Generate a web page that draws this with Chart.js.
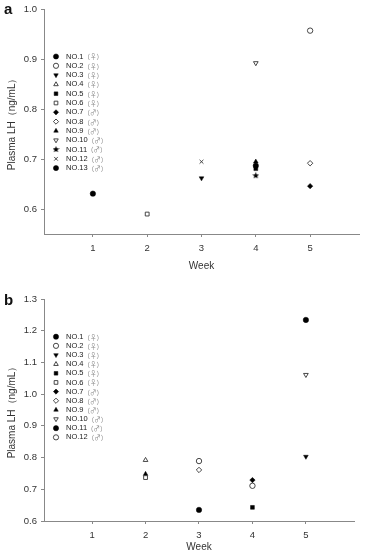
<!DOCTYPE html>
<html>
<head>
<meta charset="utf-8">
<script src="https://cdn.jsdelivr.net/npm/chart.js@4.4.0/dist/chart.umd.min.js"></script>
<style>
  body { margin: 0; background: #fff; width: 365px; height: 556px; overflow: hidden; position: relative; }
  .panel { position: absolute; left: 0; }
  .tag { position: absolute; left: 4px; font: bold 15px "Liberation Sans", Arial, sans-serif; line-height: 15px; color: #111; }
</style>
</head>
<body>
<div class="panel" style="top:0"><canvas id="chartA" width="365" height="278"></canvas></div>
<div class="panel" style="top:280px"><canvas id="chartB" width="365" height="276"></canvas></div>
<div class="tag" style="top:1px">a</div>
<div class="tag" style="top:292px">b</div>
<script>
// shared x axis
const weekTicks = [1, 2, 3, 4, 5];

// panel a
const subjectsA = ['NO.1', 'NO.2', 'NO.3', 'NO.4', 'NO.5', 'NO.6', 'NO.7', 'NO.8', 'NO.9', 'NO.10', 'NO.11', 'NO.12', 'NO.13'];
const sexA = ['♀', '♀', '♀', '♀', '♀', '♀', '♂', '♂', '♂', '♂', '♂', '♂', '♂'];
const weekA = [4, 5, 3, null, 4, 2, 5, 5, 4, 4, 4, 3, 1];
const lhA = [0.687, 0.958, 0.662, null, 0.681, 0.590, 0.646, 0.692, 0.695, 0.893, 0.667, 0.695, 0.631];
const yTicksA = [0.6, 0.7, 0.8, 0.9, 1.0];

// panel b
const subjectsB = ['NO.1', 'NO.2', 'NO.3', 'NO.4', 'NO.5', 'NO.6', 'NO.7', 'NO.8', 'NO.9', 'NO.10', 'NO.11', 'NO.12'];
const sexB = ['♀', '♀', '♀', '♀', '♀', '♀', '♂', '♂', '♂', '♂', '♂', '♂'];
const weekB = [3, 3, 5, 2, 4, 2, 4, 3, 2, 5, 5, 4];
const lhB = [0.635, 0.789, 0.803, 0.792, 0.643, 0.737, 0.729, 0.761, 0.748, 1.061, 1.234, 0.711];
const yTicksB = [0.6, 0.7, 0.8, 0.9, 1.0, 1.1, 1.2, 1.3];

// small filled star used for NO.11 in panel a
function makeStar(size) {
    const c = document.createElement('canvas');
    c.width = size; c.height = size;
    const g = c.getContext('2d');
    const cx = size / 2, cy = size / 2, R = size / 2, r = R * 0.45;
    g.beginPath();
    for (let i = 0; i < 10; i++) {
        const a = -Math.PI / 2 + i * Math.PI / 5;
        const rad = i % 2 ? r : R;
        g.lineTo(cx + rad * Math.cos(a), cy + rad * Math.sin(a));
    }
    g.closePath();
    g.fillStyle = '#000';
    g.fill();
    return c;
}
const starImg = makeStar(7);

const markersA = [
    { style: 'circle', fill: true },
    { style: 'circle', fill: false },
    { style: 'triangle', fill: true, rot: 180 },
    { style: 'triangle', fill: false },
    { style: 'rect', fill: true },
    { style: 'rect', fill: false },
    { style: 'rectRot', fill: true },
    { style: 'rectRot', fill: false },
    { style: 'triangle', fill: true },
    { style: 'triangle', fill: false, rot: 180 },
    { style: starImg, fill: true },
    { style: 'crossRot', fill: false },
    { style: 'circle', fill: true }
];
const markersB = markersA.slice(0, 10).concat([
    { style: 'circle', fill: true },
    { style: 'circle', fill: false }
]);

function buildDatasets(subjects, sex, weeks, values, markers) {
    return subjects.map((name, i) => ({
        label: name,
        sex: sex[i],
        data: weeks[i] == null ? [] : [{ x: weeks[i], y: values[i] }],
        pointStyle: markers[i].style,
        pointRotation: markers[i].rot || 0,
        backgroundColor: markers[i].fill ? '#000' : '#fff',
        borderColor: markers[i].fill ? '#000' : '#333',
        borderWidth: markers[i].fill ? 0.5 : 0.9,
        pointRadius: 2.7
    }));
}

// legend drawn inside the plot, sex symbols in grey
const sideLegend = {
    id: 'sideLegend',
    afterDraw(chart, args, opts) {
        const ctx = chart.ctx;
        ctx.save();
        chart.data.datasets.forEach((ds, i) => {
            const y = opts.top + i * opts.rowHeight;
            ctx.fillStyle = ds.backgroundColor;
            ctx.strokeStyle = ds.borderColor;
            ctx.lineWidth = ds.borderWidth;
            Chart.helpers.drawPoint(ctx, {
                pointStyle: ds.pointStyle,
                rotation: ds.pointRotation,
                radius: opts.markerRadius,
                borderWidth: ds.borderWidth
            }, opts.markerX, y);
            ctx.textBaseline = 'middle';
            ctx.textAlign = 'left';
            ctx.font = '7.5px "Liberation Sans", Arial, sans-serif';
            ctx.fillStyle = '#222';
            ctx.fillText(ds.label, opts.textX, y);
            const w = ctx.measureText(ds.label).width;
            ctx.font = '6.5px "Noto Sans CJK SC", "DejaVu Sans", sans-serif';
            ctx.fillStyle = '#8a8a8a';
            ctx.fillText('（' + ds.sex + '）', opts.textX + w, y + 0.5);
        });
        ctx.restore();
    }
};

function makeOptions(cfg) {
    const axisColor = '#888';
    const tickFont = { family: '"Liberation Sans", Arial, sans-serif', size: 9.5 };
    const titleFont = { family: '"Liberation Sans", Arial, sans-serif', size: 10 };
    return {
        responsive: false,
        animation: false,
        layout: { padding: { top: cfg.padTop, right: cfg.padRight, left: 0, bottom: 0 } },
        plugins: {
            legend: { display: false },
            tooltip: { enabled: false },
            sideLegend: { top: cfg.legendTop, rowHeight: cfg.rowHeight, markerX: 56, textX: 66, markerRadius: 2.6 }
        },
        scales: {
            x: {
                type: 'linear',
                min: 0.1,
                max: 5.9,
                afterBuildTicks: (scale) => { scale.ticks = weekTicks.map(v => ({ value: v })); },
                afterFit: (scale) => { scale.height = cfg.xHeight; },
                ticks: { color: '#333', font: tickFont, padding: 6, maxRotation: 0 },
                grid: { drawOnChartArea: false, drawTicks: true, tickLength: 3, color: axisColor },
                border: { color: axisColor, width: 1 },
                title: { display: true, text: 'Week', color: '#333', font: titleFont, padding: { top: 0, bottom: cfg.titlePadBottom } }
            },
            y: {
                min: cfg.yMin,
                max: cfg.yMax,
                afterBuildTicks: (scale) => { scale.ticks = cfg.yTicks.map(v => ({ value: v })); },
                afterFit: (scale) => { scale.width = 44; },
                ticks: { color: '#333', font: tickFont, padding: 4, callback: (v) => Number(v).toFixed(1) },
                grid: { drawOnChartArea: false, drawTicks: true, tickLength: 3, color: axisColor },
                border: { color: axisColor, width: 1 },
                title: { display: true, text: 'Plasma LH（ng/mL）', color: '#333', font: titleFont, padding: { top: 6, bottom: 0 } }
            }
        }
    };
}

new Chart(document.getElementById('chartA'), {
    type: 'scatter',
    data: { datasets: buildDatasets(subjectsA, sexA, weekA, lhA, markersA) },
    options: makeOptions({ yMin: 0.55, yMax: 1.0, yTicks: yTicksA, padTop: 7, padRight: 6, xHeight: 44, titlePadBottom: 6, legendTop: 56.5, rowHeight: 9.3 }),
    plugins: [sideLegend]
});

new Chart(document.getElementById('chartB'), {
    type: 'scatter',
    data: { datasets: buildDatasets(subjectsB, sexB, weekB, lhB, markersB) },
    options: makeOptions({ yMin: 0.6, yMax: 1.3, yTicks: yTicksB, padTop: 19, padRight: 11, xHeight: 35, titlePadBottom: 3, legendTop: 56.7, rowHeight: 9.15 }),
    plugins: [sideLegend]
});
</script>
</body>
</html>
